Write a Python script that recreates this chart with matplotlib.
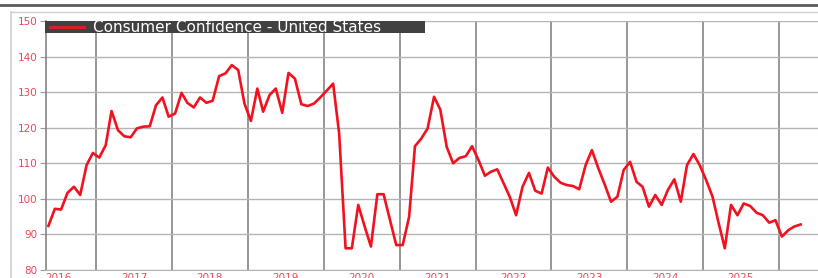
import numpy as np
import pandas as pd
import matplotlib
matplotlib.use('Agg')
import matplotlib.pyplot as plt
import matplotlib.dates as mdates
from matplotlib.patches import Rectangle
from matplotlib.lines import Line2D

# Consumer Confidence - United States, monthly, May 2016 .. Apr 2026
start_month = '2016-05-01'
confidence = [
    92.4, 97.2, 97.0, 101.7, 103.4, 101.1, 109.5, 112.9,                  # 2016
    111.6, 115.1, 124.7, 119.3, 117.6, 117.3, 119.8, 120.3, 120.4, 126.3, 128.5, 123.1,  # 2017
    124.0, 129.8, 127.0, 125.7, 128.5, 127.0, 127.6, 134.5, 135.3, 137.6, 136.2, 126.8,  # 2018
    121.9, 131.0, 124.5, 129.2, 131.0, 124.2, 135.4, 133.8, 126.6, 126.1, 126.8, 128.5,  # 2019
    130.4, 132.4, 118.4, 86.1, 86.1, 98.3, 92.4, 86.6, 101.3, 101.3, 94.0, 87.0,        # 2020
    87.0, 95.0, 114.8, 117.0, 119.8, 128.7, 125.1, 114.6, 110.0, 111.5, 112.0, 114.8,   # 2021
    110.9, 106.5, 107.6, 108.3, 104.5, 100.5, 95.4, 103.4, 107.3, 102.3, 101.5, 108.8,  # 2022
    106.2, 104.5, 103.9, 103.6, 102.7, 109.5, 113.7, 108.6, 104.0, 99.2, 100.6, 108.1,  # 2023
    110.4, 104.8, 103.4, 97.8, 101.1, 98.3, 102.5, 105.5, 99.2, 109.5, 112.6, 109.5,    # 2024
    105.3, 100.6, 93.5, 86.1, 98.3, 95.4, 98.7, 98.0, 96.1, 95.4, 93.3, 94.0,           # 2025
    89.4, 91.2, 92.2, 92.8,                                                             # 2026
]
years = [2016, 2017, 2018, 2019, 2020, 2021, 2022, 2023, 2024, 2025]
y_ticks = [80, 90, 100, 110, 120, 130, 140, 150]
series_name = 'Consumer Confidence - United States'

W, H = 818, 278
LINE_RED = '#f2111f'
TICK_RED = '#e9475c'


def px(x, y):
    """Pixel position (from top-left) to figure fraction."""
    return x / W, 1 - y / H


dates = pd.date_range(start_month, periods=len(confidence), freq='MS') + pd.Timedelta(days=14)

fig = plt.figure(figsize=(W / 100, H / 100), dpi=100)
fig.patch.set_facecolor('white')

# plot area: left edge = May 2016, right edge runs off the figure
x0, y0 = px(45.5, 270)
x1, y1 = px(W, 21)
ax = fig.add_axes([x0, y0, x1 - x0, y1 - y0])

ax.plot(dates, confidence, color=LINE_RED, linewidth=1.9, solid_joinstyle='round', zorder=3)

# scale so that Jan 2026 falls where the reference draws it
left = pd.Timestamp('2016-05-01')
right = left + (pd.Timestamp('2026-01-01') - left) * ((W - 45.5) / (779 - 45.5))
ax.set_xlim(left, right)
ax.set_ylim(80, 150)

ax.set_yticks(y_ticks)
ax.set_yticklabels([str(v) for v in y_ticks], color=TICK_RED, fontsize=7.5)
ax.tick_params(axis='y', length=4, width=0.8, color='#9a9a9a', pad=2)

ax.xaxis.set_major_locator(mdates.YearLocator())
ax.set_xticklabels([])
ax.tick_params(axis='x', length=0)

ax.grid(axis='y', color='#b4b4b4', linewidth=1.0)
ax.grid(axis='x', color='#858585', linewidth=1.2)
ax.set_axisbelow(True)
for side in ['top', 'right']:
    ax.spines[side].set_visible(False)
ax.spines['left'].set_color('#858585')
ax.spines['left'].set_linewidth(1.2)
ax.spines['bottom'].set_color('#b4b4b4')

# year labels centred on mid-year, partly cut by the bottom edge (as in the source)
for yr in years:
    ax.text(pd.Timestamp(f'{yr}-07-01'), -0.012, str(yr), transform=ax.get_xaxis_transform(),
            ha='center', va='top', color=TICK_RED, fontsize=7.5, clip_on=False)

# dark legend strip
lx, ly = px(45, 33)
lw_, lh_ = 380 / W, 12 / H
fig.add_artist(Rectangle((lx, ly), lw_, lh_, transform=fig.transFigure,
                         facecolor='#414141', edgecolor='none', zorder=5))
fig.add_artist(Line2D([50 / W, 84 / W], [1 - 27 / H] * 2, transform=fig.transFigure,
                      color='#d81e2a', linewidth=2.2, zorder=6))
fig.text(93 / W, 1 - 27.3 / H, series_name, color='white', fontsize=11,
         ha='left', va='center', zorder=6)

# frame around the chart panel
fig.add_artist(Line2D([0, 1], [1 - 5 / H] * 2, transform=fig.transFigure,
                      color='#5a5a5a', linewidth=2.0))
fig.add_artist(Line2D([11 / W, 1], [1 - 12 / H] * 2, transform=fig.transFigure,
                      color='#cfcfcf', linewidth=1.0))
fig.add_artist(Line2D([11 / W, 11 / W], [0, 1 - 12 / H], transform=fig.transFigure,
                      color='#cfcfcf', linewidth=1.2))

fig.savefig('out.png', dpi=100)
plt.close(fig)
